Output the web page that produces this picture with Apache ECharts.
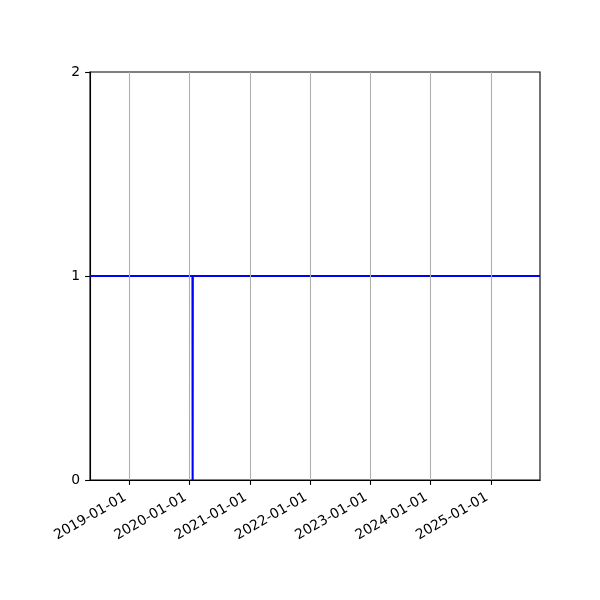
<!DOCTYPE html>
<html>
<head>
<meta charset="utf-8">
<script src="https://cdn.jsdelivr.net/npm/echarts@6/dist/echarts.min.js"></script>
<style>html,body{margin:0;padding:0;background:#fff}#c{width:600px;height:600px}</style>
</head>
<body>
<div id="c"></div>
<script>
// Data
const dates = ['2018-05-08', '2020-01-19', '2020-01-20', '2020-01-21', '2025-10-25'];
const values = [1, 1, 0, 1, 1];
const xTickLabels = ['2019-01-01', '2020-01-01', '2021-01-01', '2022-01-01', '2023-01-01', '2024-01-01', '2025-01-01'];
const yTicks = [0, 1, 2];
const xRange = ['2018-05-08', '2025-10-25'];

const toMs = s => Date.parse(s + 'T00:00:00Z');
const xTickMs = xTickLabels.map(toMs);
const labelByMs = {};
xTickLabels.forEach((s, i) => labelByMs[xTickMs[i]] = s);

const chart = echarts.init(document.getElementById('c'), null, {renderer: 'canvas'});
const font = 'DejaVu Sans';
chart.setOption({
  animation: false,
  backgroundColor: '#fff',
  grid: {left: 90, right: 60, top: 72, bottom: 120, show: true, borderColor: '#000', borderWidth: 1.1, backgroundColor: 'transparent'},
  xAxis: {
    type: 'value',
    min: toMs(xRange[0]),
    max: toMs(xRange[1]),
    axisLine: {show: true, lineStyle: {color: '#000', width: 1.1}},
    axisTick: {show: true, customValues: xTickMs, length: 4.9, lineStyle: {color: '#000', width: 1.1}},
    axisLabel: {
      customValues: xTickMs,
      rotate: 30,
      margin: 14,
      padding: [0, 4.6, 0, 0],
      color: '#000',
      fontFamily: font,
      fontSize: 13.9,
      formatter: v => labelByMs[v] || ''
    },
    splitLine: {show: false}
  },
  yAxis: {
    type: 'value',
    min: yTicks[0],
    max: yTicks[yTicks.length - 1],
    interval: 1,
    axisLine: {show: true, lineStyle: {color: '#000', width: 1.1}},
    axisTick: {show: true, length: 4.9, lineStyle: {color: '#000', width: 1.1}},
    axisLabel: {color: '#000', fontFamily: font, fontSize: 13.9, margin: 9.8},
    splitLine: {show: false}
  },
  series: [
    {
      type: 'line',
      data: [],
      silent: true,
      markLine: {
        silent: true,
        symbol: 'none',
        label: {show: false},
        lineStyle: {color: '#b0b0b0', width: 1.1, type: 'solid'},
        data: xTickMs.map(v => ({xAxis: v}))
      }
    },
    {
      type: 'line',
      data: dates.map((d, i) => [toMs(d), values[i]]),
      showSymbol: false,
      symbol: 'none',
      lineStyle: {color: '#0000ff', width: 2.08},
      itemStyle: {color: '#0000ff'}
    }
  ]
});
</script>
</body>
</html>
